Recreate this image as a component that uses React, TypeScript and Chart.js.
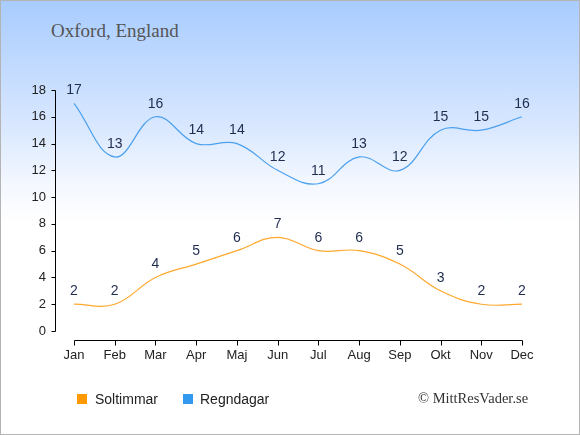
import { useEffect, useRef } from "react"
import { Chart, registerables } from "chart.js"

Chart.register(...registerables)

const months = ["Jan", "Feb", "Mar", "Apr", "Maj", "Jun", "Jul", "Aug", "Sep", "Okt", "Nov", "Dec"]
const sunHours = [2, 2, 4, 5, 6, 7, 6, 6, 5, 3, 2, 2]
const rainDays = [17, 13, 16, 14, 14, 12, 11, 13, 12, 15, 15, 16]
const yTicks = [0, 2, 4, 6, 8, 10, 12, 14, 16, 18]

const SUN_LINE = "#ffa82e"
const SUN_KEY = "#ff9900"
const RAIN_LINE = "#4ba0ee"
const RAIN_KEY = "#3399ee"

// value labels above each point + hand-drawn axis lines (offset x axis)
const decorations = {
  id: "decorations",
  afterDatasetsDraw(chart: any) {
    const ctx = chart.ctx
    ctx.save()
    ctx.font = "14px 'Liberation Sans', Arial, sans-serif"
    ctx.fillStyle = "#1f2d4e"
    ctx.textAlign = "center"
    ctx.textBaseline = "middle"
    chart.data.datasets.forEach((ds: any, i: number) => {
      chart.getDatasetMeta(i).data.forEach((pt: any, j: number) => {
        ctx.fillText(String(ds.data[j]), pt.x, pt.y - 13)
      })
    })

    const x = chart.scales.x
    const y = chart.scales.y
    ctx.strokeStyle = "#000"
    ctx.lineWidth = 1
    const axisX = 55.5
    const top = y.getPixelForValue(18)
    const bottom = y.getPixelForValue(0)
    ctx.beginPath()
    ctx.moveTo(axisX, Math.round(top) + 0.5)
    ctx.lineTo(axisX, Math.round(bottom) + 0.5)
    yTicks.forEach((v) => {
      const py = Math.round(y.getPixelForValue(v)) + 0.5
      ctx.moveTo(axisX - 4, py)
      ctx.lineTo(axisX, py)
    })
    const axisY = Math.round(bottom) + 9.5
    const left = x.getPixelForValue(0)
    const right = x.getPixelForValue(months.length - 1)
    ctx.moveTo(Math.round(left) + 0.5, axisY)
    ctx.lineTo(Math.round(right) + 0.5, axisY)
    months.forEach((_, j) => {
      const px = Math.round(x.getPixelForValue(j)) + 0.5
      ctx.moveTo(px, axisY)
      ctx.lineTo(px, axisY + 5)
    })
    ctx.stroke()
    ctx.restore()
  },
}

export default function App() {
  const canvasRef = useRef<HTMLCanvasElement>(null)

  useEffect(() => {
    if (!canvasRef.current) return
    const chart = new Chart(canvasRef.current, {
      type: "line",
      data: {
        labels: months,
        datasets: [
          {
            label: "Soltimmar",
            data: sunHours,
            borderColor: SUN_LINE,
            backgroundColor: SUN_KEY,
            borderWidth: 1.2,
            pointRadius: 0,
            tension: 0.4,
            fill: false,
          },
          {
            label: "Regndagar",
            data: rainDays,
            borderColor: RAIN_LINE,
            backgroundColor: RAIN_KEY,
            borderWidth: 1.2,
            pointRadius: 0,
            tension: 0.4,
            fill: false,
          },
        ],
      },
      options: {
        responsive: false,
        animation: false,
        devicePixelRatio: 1,
        layout: { padding: { top: 90, right: 58, bottom: 0, left: 0 } },
        plugins: { legend: { display: false }, tooltip: { enabled: false } },
        scales: {
          x: {
            offset: false,
            grid: { display: false },
            border: { display: false },
            ticks: {
              color: "#222",
              padding: 9,
              maxRotation: 0,
              autoSkip: false,
              font: { family: "'Liberation Sans', Arial, sans-serif", size: 13 },
            },
            afterFit: (s: any) => {
              s.height = 104
            },
          },
          y: {
            min: 0,
            max: 18,
            grid: { display: false },
            border: { display: false },
            afterBuildTicks: (s: any) => {
              s.ticks = yTicks.map((v) => ({ value: v }))
            },
            ticks: {
              color: "#222",
              padding: 20,
              font: { family: "'Liberation Sans', Arial, sans-serif", size: 13 },
            },
            afterFit: (s: any) => {
              s.width = 74
            },
          },
        },
      },
      plugins: [decorations],
    })
    return () => chart.destroy()
  }, [])

  const sans = "'Liberation Sans', Arial, sans-serif"
  const serif = "'Liberation Serif', 'Times New Roman', serif"

  return (
    <div
      style={{
        position: "absolute",
        left: 0,
        top: 0,
        width: 580,
        height: 435,
        background: "linear-gradient(to bottom, #a8ccff 0px, #d6e6ff 120px, #f4f8ff 185px, #ffffff 225px)",
        overflow: "hidden",
      }}
    >
      <div
        style={{
          position: "absolute",
          left: 51,
          top: 19,
          fontFamily: serif,
          fontSize: 19,
          color: "#555",
          lineHeight: "24px",
        }}
      >
        Oxford, England
      </div>
      <canvas
        ref={canvasRef}
        width={580}
        height={435}
        style={{ position: "absolute", left: 0, top: 0, width: 580, height: 435 }}
      />
      {/* legend */}
      <div style={{ position: "absolute", left: 77, top: 394, width: 10, height: 10, background: SUN_KEY }} />
      <div style={{ position: "absolute", left: 95, top: 389, fontFamily: sans, fontSize: 14, color: "#222", lineHeight: "20px" }}>
        Soltimmar
      </div>
      <div style={{ position: "absolute", left: 183, top: 394, width: 10, height: 10, background: RAIN_KEY }} />
      <div style={{ position: "absolute", left: 200, top: 389, fontFamily: sans, fontSize: 14, color: "#222", lineHeight: "20px" }}>
        Regndagar
      </div>
      <div style={{ position: "absolute", left: 418, top: 388, fontFamily: serif, fontSize: 14.5, color: "#333", lineHeight: "20px" }}>
        © MittResVader.se
      </div>
      <div
        style={{
          position: "absolute",
          inset: 0,
          border: "1px solid #b4b4b4",
          boxSizing: "border-box",
          pointerEvents: "none",
        }}
      />
    </div>
  )
}
